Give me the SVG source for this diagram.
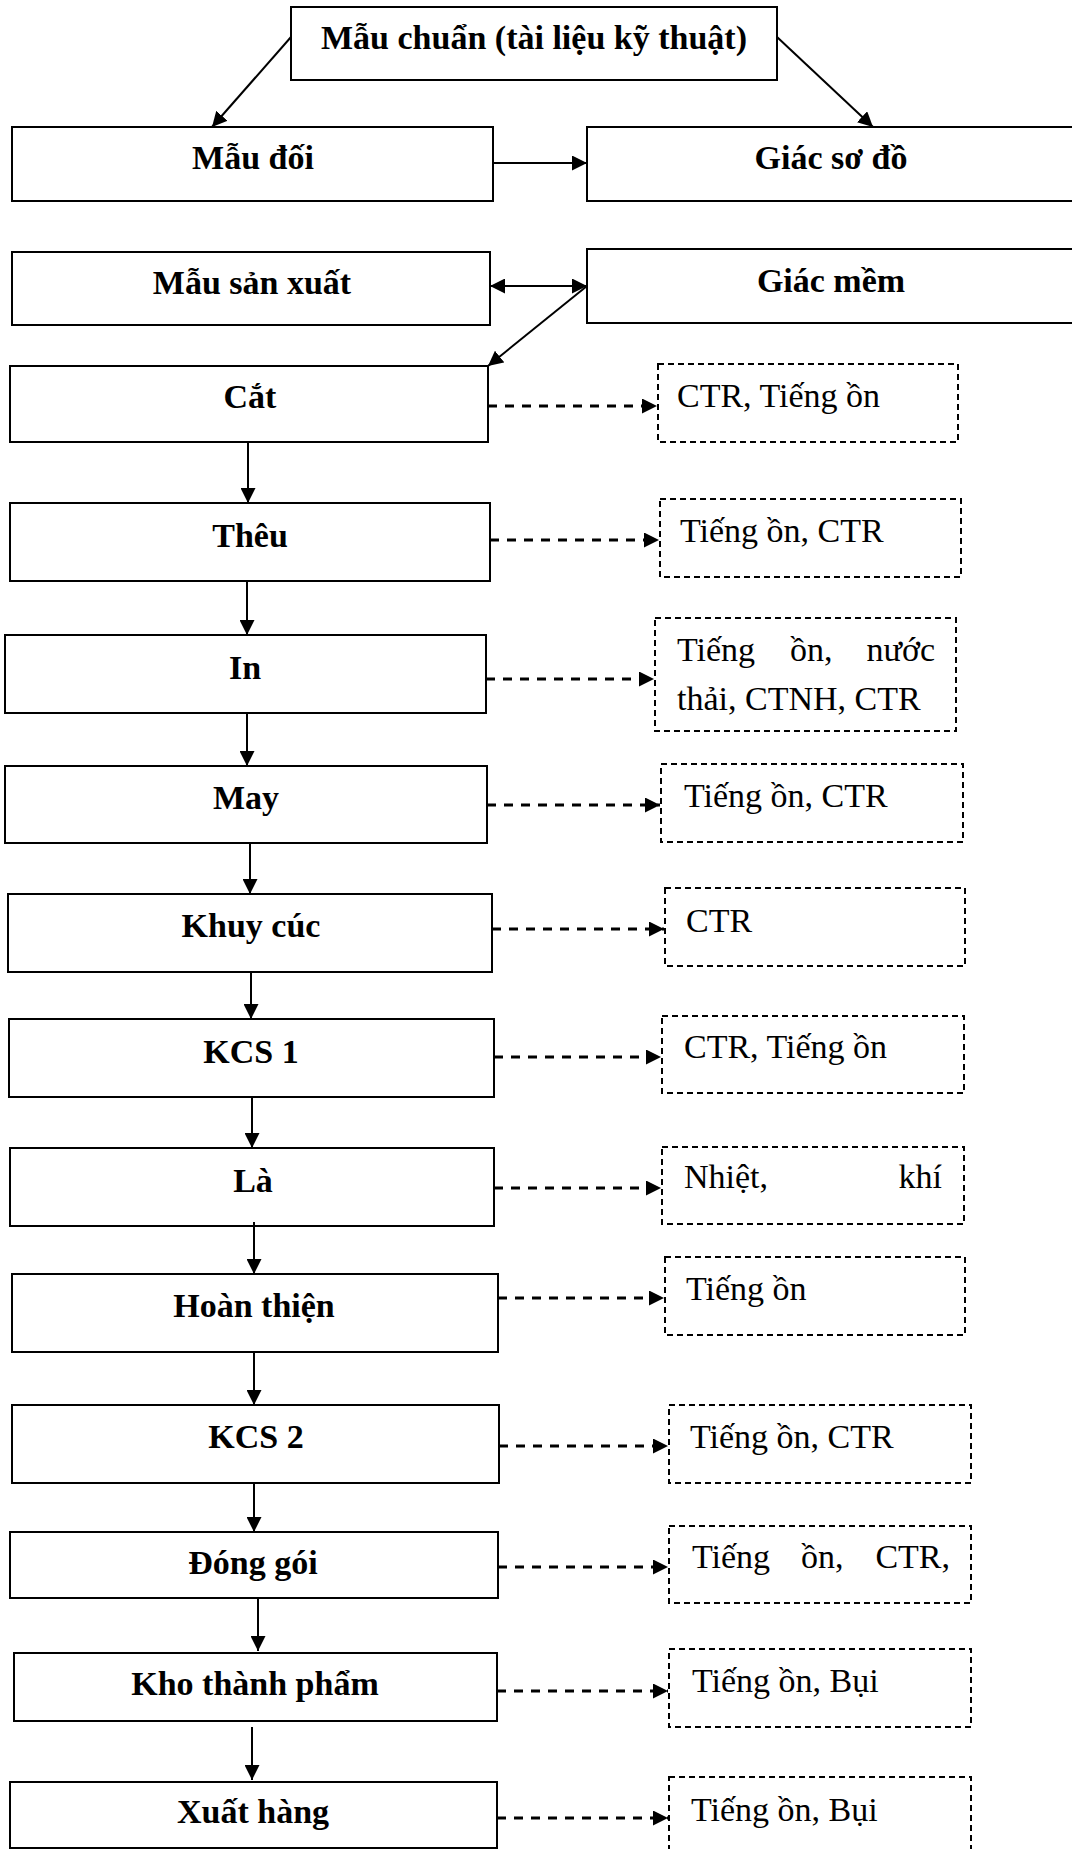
<svg xmlns="http://www.w3.org/2000/svg" width="1072" height="1849" viewBox="0 0 1072 1849">
  <style>
    .box { fill: #fff; stroke: #000; stroke-width: 2; }
    .dbox { fill: none; stroke: #000; stroke-width: 2; stroke-dasharray: 6 4; }
    .lbl { font-family: "Liberation Serif", "Times New Roman", serif; font-size: 34px; font-weight: bold; text-anchor: middle; fill: #000; }
    .note { font-family: "Liberation Serif", "Times New Roman", serif; font-size: 34px; fill: #000; }
    .end { text-anchor: end; }
    .flow { stroke: #000; stroke-width: 2; fill: none; marker-end: url(#head); }
    .emit { stroke: #000; stroke-width: 3; stroke-dasharray: 9 8; fill: none; marker-end: url(#head); }
  </style>
  <defs>
    <marker id="head" viewBox="0 0 15 15" markerUnits="userSpaceOnUse" markerWidth="15" markerHeight="15" refX="15" refY="7.5" orient="auto-start-reverse">
      <path d="M0,0 L15,7.5 L0,15 Z" fill="#000"/>
    </marker>
  </defs>
  <rect width="1072" height="1849" fill="#fff"/>

  <!-- process boxes -->
  <g id="mau-chuan"><rect class="box" x="291" y="7" width="486" height="73"/><text class="lbl" x="534" y="49">Mẫu chuẩn (tài liệu kỹ thuật)</text></g>
  <g id="mau-doi"><rect class="box" x="12" y="127" width="481" height="74"/><text class="lbl" x="253" y="169">Mẫu đối</text></g>
  <g id="giac-so-do"><rect class="box" x="587" y="127" width="495" height="74"/><text class="lbl" x="831" y="169">Giác sơ đồ</text></g>
  <g id="mau-san-xuat"><rect class="box" x="12" y="252" width="478" height="73"/><text class="lbl" x="252" y="294">Mẫu sản xuất</text></g>
  <g id="giac-mem"><rect class="box" x="587" y="249" width="495" height="74"/><text class="lbl" x="831" y="292">Giác mềm</text></g>
  <g id="cat"><rect class="box" x="10" y="366" width="478" height="76"/><text class="lbl" x="250" y="408">Cắt</text></g>
  <g id="theu"><rect class="box" x="10" y="503" width="480" height="78"/><text class="lbl" x="250" y="547">Thêu</text></g>
  <g id="in"><rect class="box" x="5" y="635" width="481" height="78"/><text class="lbl" x="245" y="679">In</text></g>
  <g id="may"><rect class="box" x="5" y="766" width="482" height="77"/><text class="lbl" x="246" y="809">May</text></g>
  <g id="khuy-cuc"><rect class="box" x="8" y="894" width="484" height="78"/><text class="lbl" x="251" y="937">Khuy cúc</text></g>
  <g id="kcs-1"><rect class="box" x="9" y="1019" width="485" height="78"/><text class="lbl" x="251" y="1063">KCS 1</text></g>
  <g id="la"><rect class="box" x="10" y="1148" width="484" height="78"/><text class="lbl" x="253" y="1192">Là</text></g>
  <g id="hoan-thien"><rect class="box" x="12" y="1274" width="486" height="78"/><text class="lbl" x="254" y="1317">Hoàn thiện</text></g>
  <g id="kcs-2"><rect class="box" x="12" y="1405" width="487" height="78"/><text class="lbl" x="256" y="1448">KCS 2</text></g>
  <g id="dong-goi"><rect class="box" x="10" y="1532" width="488" height="66"/><text class="lbl" x="253" y="1574">Đóng gói</text></g>
  <g id="kho-thanh-pham"><rect class="box" x="14" y="1653" width="483" height="68"/><text class="lbl" x="255" y="1695">Kho thành phẩm</text></g>
  <g id="xuat-hang"><rect class="box" x="10" y="1782" width="487" height="66"/><text class="lbl" x="253" y="1823">Xuất hàng</text></g>

  <!-- emission boxes -->
  <g id="thai-cat"><rect class="dbox" x="658" y="364" width="300" height="78"/><text class="note" x="677" y="407">CTR, Tiếng ồn</text></g>
  <g id="thai-theu"><rect class="dbox" x="660" y="499" width="301" height="78"/><text class="note" x="680" y="542">Tiếng ồn, CTR</text></g>
  <g id="thai-in"><rect class="dbox" x="655" y="618" width="301" height="113"/>
    <text class="note" x="677" y="661">Tiếng</text><text class="note" x="790" y="661">ồn,</text><text class="note end" x="935" y="661">nước</text>
    <text class="note" x="677" y="710">thải, CTNH, CTR</text></g>
  <g id="thai-may"><rect class="dbox" x="661" y="764" width="302" height="78"/><text class="note" x="684" y="807">Tiếng ồn, CTR</text></g>
  <g id="thai-khuy-cuc"><rect class="dbox" x="665" y="888" width="300" height="78"/><text class="note" x="686" y="932">CTR</text></g>
  <g id="thai-kcs-1"><rect class="dbox" x="662" y="1016" width="302" height="77"/><text class="note" x="684" y="1058">CTR, Tiếng ồn</text></g>
  <g id="thai-la"><rect class="dbox" x="662" y="1147" width="302" height="77"/>
    <text class="note" x="684" y="1188">Nhiệt,</text><text class="note end" x="942" y="1188">khí</text></g>
  <g id="thai-hoan-thien"><rect class="dbox" x="665" y="1257" width="300" height="78"/><text class="note" x="686" y="1300">Tiếng ồn</text></g>
  <g id="thai-kcs-2"><rect class="dbox" x="669" y="1405" width="302" height="78"/><text class="note" x="690" y="1448">Tiếng ồn, CTR</text></g>
  <g id="thai-dong-goi"><rect class="dbox" x="669" y="1526" width="302" height="77"/>
    <text class="note" x="692" y="1568">Tiếng</text><text class="note" x="801" y="1568">ồn,</text><text class="note end" x="950" y="1568">CTR,</text></g>
  <g id="thai-kho"><rect class="dbox" x="669" y="1649" width="302" height="78"/><text class="note" x="692" y="1692">Tiếng ồn, Bụi</text></g>
  <g id="thai-xuat-hang"><rect class="dbox" x="669" y="1777" width="302" height="90"/><text class="note" x="691" y="1821">Tiếng ồn, Bụi</text></g>

  <!-- connectors -->
  <g id="connectors">
    <line class="flow" x1="291" y1="37" x2="212" y2="127"/>
    <line class="flow" x1="777" y1="37" x2="873" y2="127"/>
    <line class="flow" x1="493" y1="163" x2="587" y2="163"/>
    <line class="flow" x1="490" y1="286" x2="587" y2="286" marker-start="url(#head)"/>
    <line class="flow" x1="587" y1="286" x2="488" y2="366"/>
    <line class="flow" x1="248" y1="443" x2="248" y2="503"/>
    <line class="flow" x1="247" y1="581" x2="247" y2="635"/>
    <line class="flow" x1="247" y1="713" x2="247" y2="766"/>
    <line class="flow" x1="250" y1="843" x2="250" y2="894"/>
    <line class="flow" x1="251" y1="972" x2="251" y2="1019"/>
    <line class="flow" x1="252" y1="1097" x2="252" y2="1148"/>
    <line class="flow" x1="254" y1="1222" x2="254" y2="1274"/>
    <line class="flow" x1="254" y1="1352" x2="254" y2="1405"/>
    <line class="flow" x1="254" y1="1483" x2="254" y2="1532"/>
    <line class="flow" x1="258" y1="1598" x2="258" y2="1651"/>
    <line class="flow" x1="252" y1="1727" x2="252" y2="1780"/>
    <line class="emit" x1="488" y1="406" x2="657" y2="406"/>
    <line class="emit" x1="490" y1="540" x2="659" y2="540"/>
    <line class="emit" x1="486" y1="679" x2="654" y2="679"/>
    <line class="emit" x1="487" y1="805" x2="660" y2="805"/>
    <line class="emit" x1="492" y1="929" x2="664" y2="929"/>
    <line class="emit" x1="494" y1="1057" x2="661" y2="1057"/>
    <line class="emit" x1="494" y1="1188" x2="661" y2="1188"/>
    <line class="emit" x1="498" y1="1298" x2="664" y2="1298"/>
    <line class="emit" x1="499" y1="1446" x2="668" y2="1446"/>
    <line class="emit" x1="498" y1="1567" x2="668" y2="1567"/>
    <line class="emit" x1="497" y1="1691" x2="668" y2="1691"/>
    <line class="emit" x1="497" y1="1818" x2="668" y2="1818"/>
  </g>
</svg>
